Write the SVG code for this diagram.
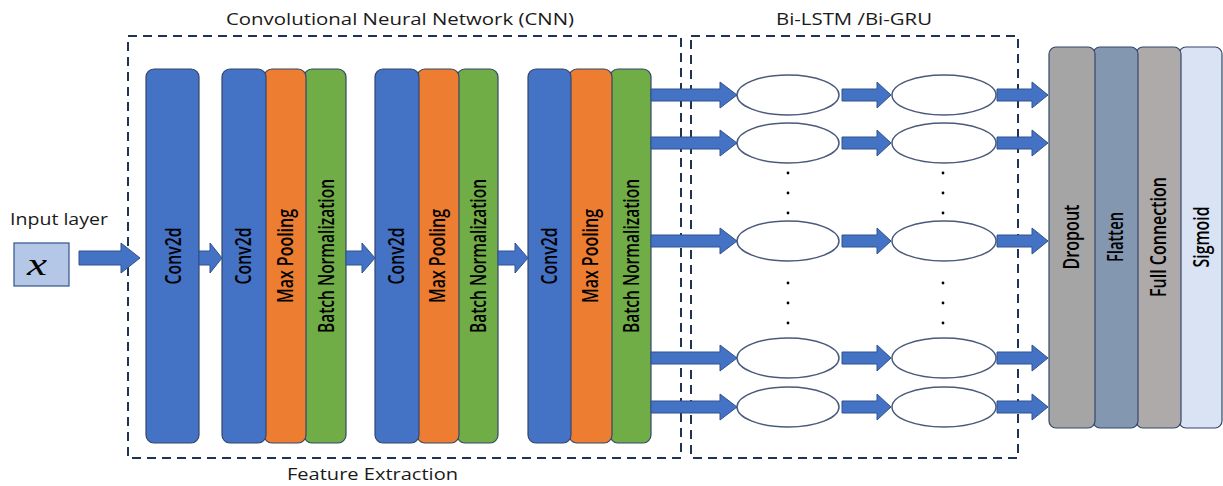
<svg xmlns="http://www.w3.org/2000/svg" width="1223" height="486" viewBox="0 0 1223 486">
<style>
.bar{stroke:#34466A;stroke-width:1.2}
.blue{fill:#4472C4}
.orange{fill:#ED7D31}
.green{fill:#70AD47}
.lbl{font-family:"Open Sans","Liberation Sans",Arial,sans-serif;font-weight:600;font-size:21.5px;fill:#000}
.title{font-family:"Open Sans","Liberation Sans",sans-serif;font-size:17px;fill:#1a1a1a}
.dash{fill:none;stroke:#1F3356;stroke-width:2;stroke-dasharray:9 6}
.arr{fill:#4472C4;stroke:#2F528F;stroke-width:1}
.ell{fill:#fff;stroke:#4A5A7A;stroke-width:1.5}
.dot{fill:#000}
</style>
<rect width="1223" height="486" fill="#fff"/>

<g id="titles">
<text class="title" x="226" y="25" textLength="348" lengthAdjust="spacingAndGlyphs">Convolutional Neural Network (CNN)</text>
<text class="title" x="776" y="25" textLength="156" lengthAdjust="spacingAndGlyphs">Bi-LSTM /Bi-GRU</text>
<text class="title" x="287" y="480" textLength="171" lengthAdjust="spacingAndGlyphs">Feature Extraction</text>
</g>

<g id="cnn-box"><rect class="dash" x="128" y="36" width="553" height="422"/></g>
<g id="bi-box"><rect class="dash" x="691" y="36" width="327" height="422"/></g>

<g id="input">
<text class="title" x="10" y="225" textLength="98" lengthAdjust="spacingAndGlyphs">Input layer</text>
<rect x="14" y="243" width="55" height="43" fill="#B4C7E7" stroke="#2F528F" stroke-width="1.2"/>
<text x="27" y="275" font-family="'Liberation Serif','DejaVu Serif',serif" font-style="italic" font-size="32" textLength="20" lengthAdjust="spacingAndGlyphs" fill="#000">x</text>
</g>

<g id="conv1">
<rect class="bar blue" x="146" y="69" width="53" height="374" rx="8"/>
<text class="lbl" transform="translate(180.5,256) rotate(-90)" text-anchor="middle" textLength="57" lengthAdjust="spacingAndGlyphs">Conv2d</text>
</g>

<g id="block1">
<rect class="bar green" x="304" y="69" width="42" height="374" rx="8"/>
<rect class="bar orange" x="264" y="69" width="42" height="374" rx="8"/>
<rect class="bar blue" x="222" y="69" width="44" height="374" rx="8"/>
<text class="lbl" transform="translate(250.5,256) rotate(-90)" text-anchor="middle" textLength="57" lengthAdjust="spacingAndGlyphs">Conv2d</text>
<text class="lbl" transform="translate(292.5,256) rotate(-90)" text-anchor="middle" textLength="94" lengthAdjust="spacingAndGlyphs">Max Pooling</text>
<text class="lbl" transform="translate(333.5,256) rotate(-90)" text-anchor="middle" textLength="154" lengthAdjust="spacingAndGlyphs">Batch Normalization</text>
</g>

<g id="block2">
<rect class="bar green" x="457" y="69" width="41" height="374" rx="8"/>
<rect class="bar orange" x="417" y="69" width="42" height="374" rx="8"/>
<rect class="bar blue" x="375" y="69" width="44" height="374" rx="8"/>
<text class="lbl" transform="translate(403.5,256) rotate(-90)" text-anchor="middle" textLength="57" lengthAdjust="spacingAndGlyphs">Conv2d</text>
<text class="lbl" transform="translate(444.5,256) rotate(-90)" text-anchor="middle" textLength="94" lengthAdjust="spacingAndGlyphs">Max Pooling</text>
<text class="lbl" transform="translate(485.5,256) rotate(-90)" text-anchor="middle" textLength="154" lengthAdjust="spacingAndGlyphs">Batch Normalization</text>
</g>

<g id="block3">
<rect class="bar green" x="610" y="69" width="41" height="374" rx="8"/>
<rect class="bar orange" x="569" y="69" width="43" height="374" rx="8"/>
<rect class="bar blue" x="528" y="69" width="43" height="374" rx="8"/>
<text class="lbl" transform="translate(556.5,256) rotate(-90)" text-anchor="middle" textLength="57" lengthAdjust="spacingAndGlyphs">Conv2d</text>
<text class="lbl" transform="translate(597.5,256) rotate(-90)" text-anchor="middle" textLength="94" lengthAdjust="spacingAndGlyphs">Max Pooling</text>
<text class="lbl" transform="translate(638.5,256) rotate(-90)" text-anchor="middle" textLength="154" lengthAdjust="spacingAndGlyphs">Batch Normalization</text>
</g>

<g id="rnn-cells">
<ellipse class="ell" cx="788" cy="95" rx="51" ry="20"/>
<ellipse class="ell" cx="944" cy="95" rx="52" ry="20"/>
<ellipse class="ell" cx="788" cy="143" rx="51" ry="20"/>
<ellipse class="ell" cx="944" cy="143" rx="52" ry="20"/>
<ellipse class="ell" cx="788" cy="241" rx="51" ry="20"/>
<ellipse class="ell" cx="944" cy="241" rx="52" ry="20"/>
<ellipse class="ell" cx="788" cy="358" rx="51" ry="20"/>
<ellipse class="ell" cx="944" cy="358" rx="52" ry="20"/>
<ellipse class="ell" cx="788" cy="407" rx="51" ry="20"/>
<ellipse class="ell" cx="944" cy="407" rx="52" ry="20"/>
<circle class="dot" cx="788" cy="173" r="1.4"/><circle class="dot" cx="788" cy="193" r="1.4"/><circle class="dot" cx="788" cy="213" r="1.4"/>
<circle class="dot" cx="788" cy="283" r="1.4"/><circle class="dot" cx="788" cy="303" r="1.4"/><circle class="dot" cx="788" cy="323" r="1.4"/>
<circle class="dot" cx="943" cy="173" r="1.4"/><circle class="dot" cx="943" cy="193" r="1.4"/><circle class="dot" cx="943" cy="213" r="1.4"/>
<circle class="dot" cx="943" cy="283" r="1.4"/><circle class="dot" cx="943" cy="303" r="1.4"/><circle class="dot" cx="943" cy="323" r="1.4"/>
</g>

<g id="dense">
<rect class="bar" x="1179" y="47" width="43" height="381" rx="7" fill="#DAE3F3"/>
<rect class="bar" x="1136" y="47" width="45" height="381" rx="7" fill="#AEAAAA"/>
<rect class="bar" x="1093" y="47" width="45" height="381" rx="7" fill="#8497B0"/>
<rect class="bar" x="1049" y="47" width="46" height="381" rx="7" fill="#A5A5A5"/>
<text class="lbl" transform="translate(1078.5,237) rotate(-90)" text-anchor="middle" textLength="65" lengthAdjust="spacingAndGlyphs">Dropout</text>
<text class="lbl" transform="translate(1122.5,237) rotate(-90)" text-anchor="middle" textLength="50" lengthAdjust="spacingAndGlyphs">Flatten</text>
<text class="lbl" transform="translate(1165.5,237) rotate(-90)" text-anchor="middle" textLength="120" lengthAdjust="spacingAndGlyphs">Full Connection</text>
<text class="lbl" transform="translate(1208.5,237) rotate(-90)" text-anchor="middle" textLength="61" lengthAdjust="spacingAndGlyphs">Sigmoid</text>
</g>

<g id="connectors">
<path class="arr" d="M79 251H121V243L140 258L121 273V265H79Z"/>
<path class="arr" d="M199 251H210V243L222 258L210 273V265H199Z"/>
<path class="arr" d="M346 251H362V243L375 258L362 273V265H346Z"/>
<path class="arr" d="M498 251H515V243L528 258L515 273V265H498Z"/>

<path class="arr" d="M651 89H720V82L737 95L720 108V101H651Z"/>
<path class="arr" d="M842 89H877V82L891 95L877 108V101H842Z"/>
<path class="arr" d="M997 89H1032V82L1048 95L1032 108V101H997Z"/>

<path class="arr" d="M651 137H720V130L737 143L720 156V149H651Z"/>
<path class="arr" d="M842 137H877V130L891 143L877 156V149H842Z"/>
<path class="arr" d="M997 137H1032V130L1048 143L1032 156V149H997Z"/>

<path class="arr" d="M651 235H720V228L737 241L720 254V247H651Z"/>
<path class="arr" d="M842 235H877V228L891 241L877 254V247H842Z"/>
<path class="arr" d="M997 235H1032V228L1048 241L1032 254V247H997Z"/>

<path class="arr" d="M651 352H720V345L737 358L720 371V364H651Z"/>
<path class="arr" d="M842 352H877V345L891 358L877 371V364H842Z"/>
<path class="arr" d="M997 352H1032V345L1048 358L1032 371V364H997Z"/>

<path class="arr" d="M651 401H720V394L737 407L720 420V413H651Z"/>
<path class="arr" d="M842 401H877V394L891 407L877 420V413H842Z"/>
<path class="arr" d="M997 401H1032V394L1048 407L1032 420V413H997Z"/>
</g>
</svg>
